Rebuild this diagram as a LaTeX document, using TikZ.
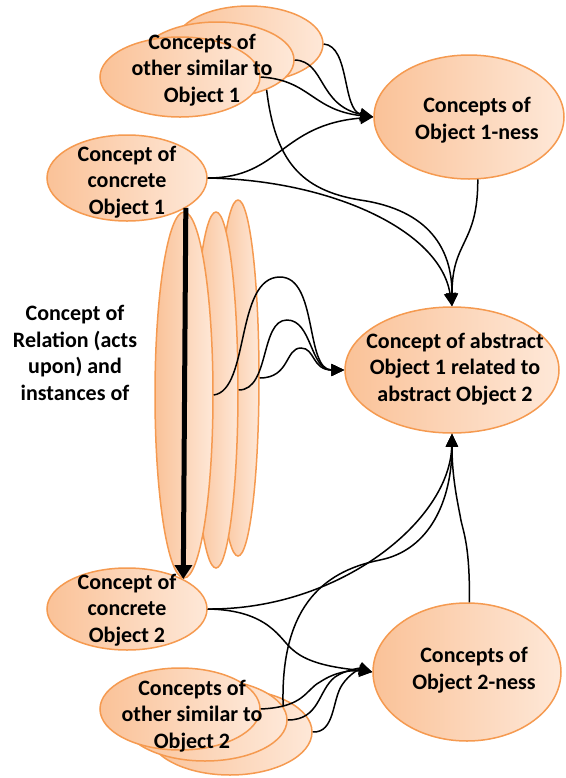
\documentclass[tikz,border=0pt]{standalone}
\usepackage{fontspec}
\setmainfont{Carlito}
\usetikzlibrary{shapes.geometric,arrows.meta}
\definecolor{ringline}{HTML}{F59A50}
\definecolor{peachdark}{HTML}{FAC298}
\definecolor{peachlight}{HTML}{FEE8D8}
\tikzset{
  blob/.style={ellipse, draw=ringline, line width=0.75pt,
    left color=peachdark, right color=peachlight, inner sep=0pt},
  lbl/.style={align=center, font=\fontsize{11}{13.3}\selectfont\bfseries, inner sep=0pt},
  link/.style={line width=0.75pt, -{Triangle[length=6.5pt,width=6pt]}},
  heavy/.style={line width=2.5pt, -{Triangle[length=7pt,width=8.5pt]}}
}
\begin{document}
\begin{tikzpicture}[x=0.5pt,y=-0.5pt]
\useasboundingbox (0,0) rectangle (566,778);

% stack of similar objects (top)
\node[blob, minimum width=74pt, minimum height=38pt] (s1c) at (249,44) {};
\node[blob, minimum width=77pt, minimum height=38pt] (s1b) at (217,60) {};
\node[blob, minimum width=80pt, minimum height=40pt] (s1a) at (180,77) {};
\node[lbl] (t1) at (202,70) {Concepts of\\other similar to\\Object 1};

% relation instances (tall ellipses)
\node[blob, minimum width=21pt, minimum height=178pt] (r3) at (238,378) {};
\node[blob, minimum width=22pt, minimum height=178pt] (r2) at (216,390) {};
\node[blob, minimum width=29pt, minimum height=183pt] (r1) at (184,395) {};
\node[lbl] (tr) at (75,353) {Concept of\\Relation (acts\\upon) and\\instances of};

% concrete objects
\node[blob, minimum width=80pt, minimum height=43pt] (c1) at (127,178) {};
\node[lbl] (tc1) at (127,182) {Concept of\\concrete\\Object 1};
\node[blob, minimum width=80pt, minimum height=41pt] (c2) at (127,609) {};
\node[lbl] (tc2) at (127,610) {Concept of\\concrete\\Object 2};

% stack of similar objects (bottom)
\node[blob, minimum width=82pt, minimum height=43pt] (s2c) at (230,732) {};
\node[blob, minimum width=82pt, minimum height=41pt] (s2b) at (205,720) {};
\node[blob, minimum width=80pt, minimum height=41pt] (s2a) at (180,709) {};
\node[lbl] (t2) at (192,716) {Concepts of\\other similar to\\Object 2};

% abstract concepts
\node[blob, minimum width=95pt, minimum height=62pt] (n1) at (469,117) {};
\node[lbl] (tn1) at (477,120) {Concepts of\\Object 1-ness};
\node[blob, minimum width=107pt, minimum height=63pt] (ab) at (452,370) {};
\node[lbl] (tab) at (455,369) {Concept of abstract\\Object 1 related to\\abstract Object 2};
\node[blob, minimum width=94pt, minimum height=69pt] (n2) at (467,672) {};
\node[lbl] (tn2) at (474,670) {Concepts of\\Object 2-ness};

% relation arrow between the concrete objects
\draw[heavy] (c1.-27) -- (c2.28);

% into Object 1-ness
\draw[link] (s1c.east) .. controls (350,46) and (342,110) .. (n1.west);
\draw[link] (s1b.east) .. controls (325,61) and (318,105) .. (n1.west);
\draw[link] (s1a.east) .. controls (310,80) and (312,110) .. (n1.west);
\draw[link] (c1.east) .. controls (280,178) and (280,125) .. (n1.west);

% into the abstract relation, from above
\draw[link] (c1.east) .. controls (330,180) and (440,230) .. (ab.north);
\draw[link] (s1b.-31) .. controls (275,160) and (300,190) .. (360,200)
  .. controls (430,210) and (452,250) .. (ab.north);
\draw[link] (n1.-82) .. controls (478,245) and (452,240) .. (ab.north);

% into the abstract relation, from the relation instances
\draw[link] (r1.east) .. controls (250,390) and (235,277) .. (280,277)
  .. controls (318,277) and (305,370) .. (ab.west);
\draw[link] (r2.east) .. controls (270,390) and (260,320) .. (287,320)
  .. controls (312,320) and (310,370) .. (ab.west);
\draw[link] (r3.east) .. controls (290,378) and (285,348) .. (301,348)
  .. controls (315,348) and (312,370) .. (ab.west);

% into the abstract relation, from below
\draw[link] (c2.east) .. controls (340,610) and (450,520) .. (ab.south);
\draw[link] (s2b.10) .. controls (280,600) and (330,570) .. (380,560)
  .. controls (430,550) and (452,500) .. (ab.south);
\draw[link] (n2.88) .. controls (470,540) and (462,530) .. (460,515)
  .. controls (455,490) and (452,470) .. (ab.south);

% into Object 2-ness
\draw[link] (c2.east) .. controls (270,610) and (280,640) .. (293,650)
  .. controls (310,665) and (340,668) .. (n2.west);
\draw[link] (s2a.east) .. controls (305,707) and (305,690) .. (320,682)
  .. controls (335,672) and (350,670) .. (n2.west);
\draw[link] (s2b.east) .. controls (320,720) and (318,690) .. (335,677)
  .. controls (345,670) and (360,668) .. (n2.west);
\draw[link] (s2c.east) .. controls (335,733) and (332,700) .. (342,685)
  .. controls (350,673) and (360,669) .. (n2.west);
\end{tikzpicture}
\end{document}
